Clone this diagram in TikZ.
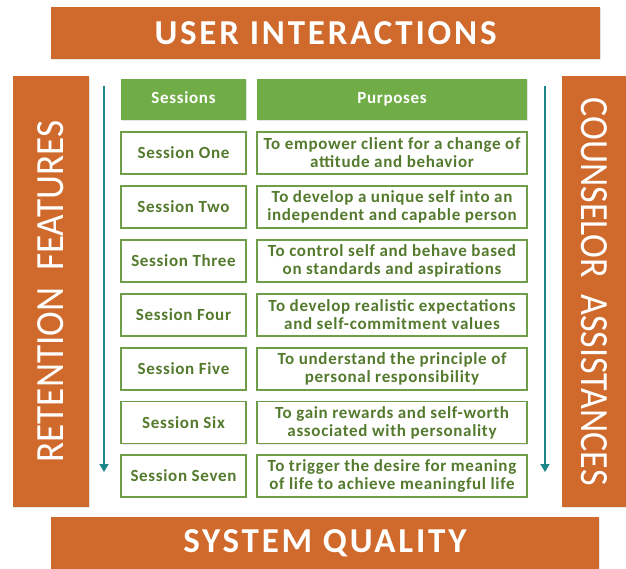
\documentclass[tikz,border=0pt]{standalone}
\usepackage{fontspec}
\setmainfont{Carlito}
\newfontfamily\widefont[LetterSpace=4]{Carlito}
\newfontfamily\titlefont[LetterSpace=8]{Carlito}
\usetikzlibrary{arrows.meta,shadows}

\definecolor{barorange}{RGB}{208,106,44}
\definecolor{headgreen}{RGB}{112,173,71}
\definecolor{boxgreen}{RGB}{110,158,74}
\definecolor{textgreen}{RGB}{84,122,46}
\definecolor{flowteal}{RGB}{28,134,136}

\tikzset{
	bar/.style = {fill = barorange, draw = none, inner sep = 0pt,
		drop shadow = {opacity = 0.2, shadow xshift = 1pt, shadow yshift = -1pt}},
	barlabel/.style = {text = white, inner sep = 0pt},
	title/.style = {barlabel, font = \titlefont\bfseries\fontsize{35}{35}\selectfont},
	side/.style = {barlabel, font = \fontsize{40}{40}\selectfont},
	head/.style = {fill = headgreen, draw = none, text = white, minimum height = 41pt,
		text height = 12pt, text depth = 3pt,
		font = \widefont\bfseries\fontsize{17}{18}\selectfont,
		drop shadow = {opacity = 0.2, shadow xshift = 1pt, shadow yshift = -1pt}},
	session/.style = {fill = white, draw = boxgreen, line width = 1.4pt, text = textgreen,
		minimum width = 125pt, minimum height = 42pt,
		font = \widefont\bfseries\fontsize{17}{18}\selectfont,
		drop shadow = {opacity = 0.15, shadow xshift = 1pt, shadow yshift = -1pt}},
	purpose/.style = {session, minimum width = 270pt, align = center},
	flow/.style = {draw = flowteal, line width = 1.6pt, -{Triangle[width = 9pt, length = 8pt]}}
}

\begin{document}
\begin{tikzpicture} [x = 1pt, y = -1pt]
	\useasboundingbox [fill = white] (0,0) rectangle (626,569);
	\node [bar, minimum width = 549pt, minimum height = 52pt] (interact) at (325.5,33) {};
	\node [bar, minimum width = 548pt, minimum height = 52pt] (quality) at (325,543) {};
	\node [bar, minimum width = 76pt, minimum height = 431pt] (retention) at (51,291.5) {};
	\node [bar, minimum width = 64pt, minimum height = 431pt] (counselor) at (594,291.5) {};
	\node [title] (intlabel) at (interact) {USER INTERACTIONS};
	\node [title] (qualabel) at (quality) {SYSTEM QUALITY};
	\node [side, rotate = 90, xscale = 0.93] (retlabel) at (retention) {RETENTION\ \ FEATURES};
	\node [side, rotate = -90, xscale = 0.9] (coulabel) at (counselor) {COUNSELOR\ \ ASSISTANCES};
	\node [head, minimum width = 125pt] (sessions) at (183.5,99.5) {Sessions};
	\node [head, minimum width = 270pt] (purposes) at (392,99.5) {Purposes};
	\node [session] (s1) at (183.5,153) {Session One};
	\node [purpose] (p1) at (392,153) {To empower client for a change of\\attitude and behavior};
	\node [session] (s2) at (183.5,207) {Session Two};
	\node [purpose] (p2) at (392,207) {To develop a unique self into an\\independent and capable person};
	\node [session] (s3) at (183.5,261) {Session Three};
	\node [purpose] (p3) at (392,261) {To control self and behave based\\on standards and aspirations};
	\node [session] (s4) at (183.5,315) {Session Four};
	\node [purpose] (p4) at (392,315) {To develop realistic expectations\\and self-commitment values};
	\node [session] (s5) at (183.5,369) {Session Five};
	\node [purpose] (p5) at (392,369) {To understand the principle of\\personal responsibility};
	\node [session] (s6) at (183.5,422.5) {Session Six};
	\node [purpose] (p6) at (392,422.5) {To gain rewards and self-worth\\associated with personality};
	\node [session] (s7) at (183.5,476) {Session Seven};
	\node [purpose] (p7) at (392,476) {To trigger the desire for meaning\\of life to achieve meaningful life};
	\coordinate (lefttop) at (104,86);
	\coordinate (leftend) at (104,472);
	\coordinate (righttop) at (545,86);
	\coordinate (rightend) at (545,472);
	\draw [flow] (lefttop) -- (leftend);
	\draw [flow] (righttop) -- (rightend);
\end{tikzpicture}
\end{document}
